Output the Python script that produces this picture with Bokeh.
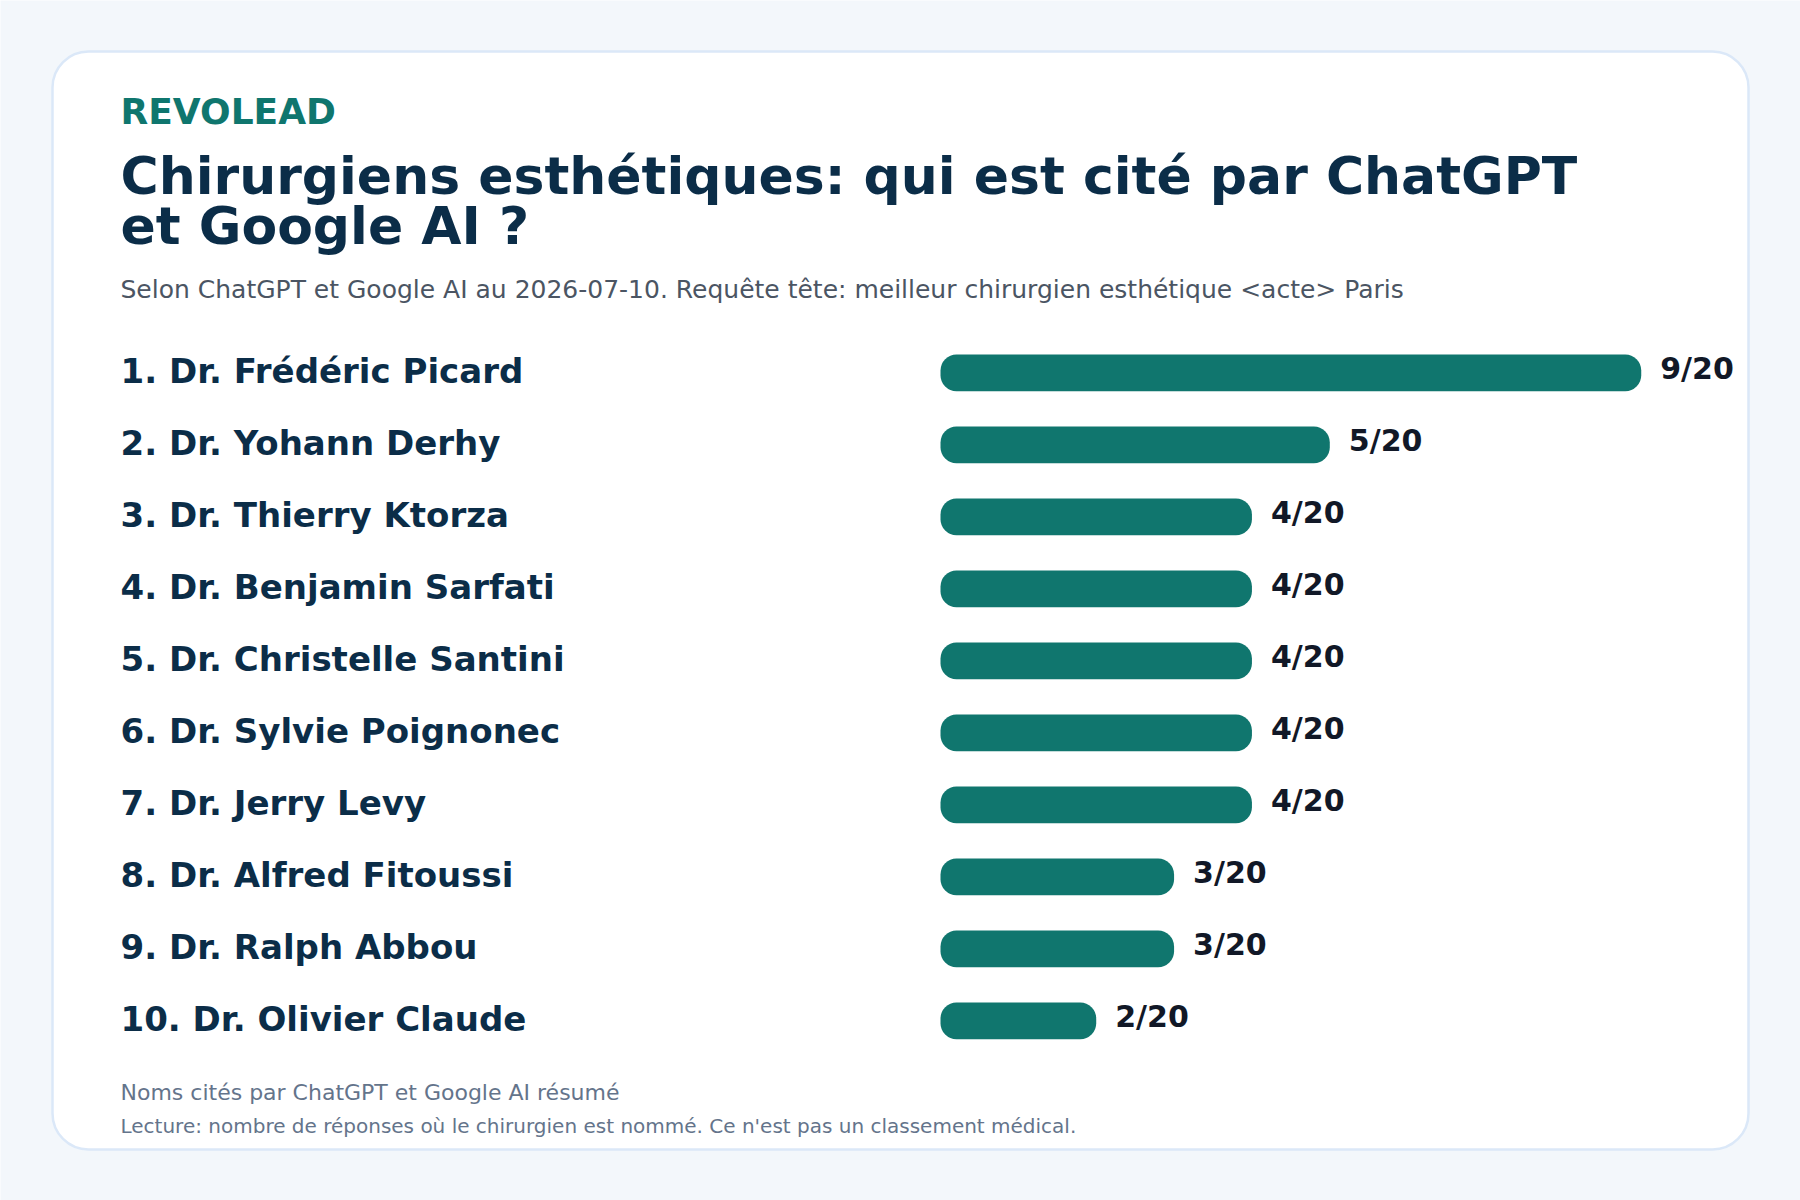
from bokeh.plotting import figure
from bokeh.models import Range1d, ColumnDataSource, Label, BoxAnnotation
from bokeh.core.properties import value
from bokeh.embed import file_html
from bokeh.resources import INLINE

# ---------------- data ----------------
brand = "REVOLEAD"
title_lines = ["Chirurgiens esthétiques: qui est cité par ChatGPT", "et Google AI ?"]
subtitle = "Selon ChatGPT et Google AI au 2026-07-10. Requête tête: meilleur chirurgien esthétique <acte> Paris"
footer_lines = [
    "Noms cités par ChatGPT et Google AI résumé",
    "Lecture: nombre de réponses où le chirurgien est nommé. Ce n'est pas un classement médical.",
]
names = [
    "Dr. Frédéric Picard", "Dr. Yohann Derhy", "Dr. Thierry Ktorza", "Dr. Benjamin Sarfati",
    "Dr. Christelle Santini", "Dr. Sylvie Poignonec", "Dr. Jerry Levy", "Dr. Alfred Fitoussi",
    "Dr. Ralph Abbou", "Dr. Olivier Claude",
]
citations = [9, 5, 4, 4, 4, 4, 4, 3, 3, 2]
total_responses = 20

ranks = list(range(1, len(names) + 1))
labels = [f"{r}. {n}" for r, n in zip(ranks, names)]
value_labels = [f"{v}/{total_responses}" for v in citations]

# ---------------- layout constants (pixels) ----------------
W, H = 1800, 1200
BAR_X0 = 940.0          # pixel position of value 0
PX_PER_UNIT = 77.86     # pixels per citation
ROW0 = 372.4            # pixel centre of first row (from top)
ROW_H = 72.0            # pixels per row
NAME_X = 120.0
BASE_FIX = 0.36         # renderer places alphabetic baseline this many em lower

PAGE_BG = "#f3f7fb"
CARD_BORDER = "#dbe8f8"
TEAL = "#10766e"
NAVY = "#0b2d48"
SUB = "#4b5563"
FOOT = "#64748b"
VAL = "#111827"
FONT = "DejaVu Sans"

x_range = Range1d(-BAR_X0 / PX_PER_UNIT, (W - BAR_X0) / PX_PER_UNIT)
y_range = Range1d(1 + (H - ROW0) / ROW_H, 1 - ROW0 / ROW_H)

p = figure(width=W, height=H, x_range=x_range, y_range=y_range,
           output_backend="svg", toolbar_location=None,
           x_axis_location=None, y_axis_location=None, min_border=0)
p.grid.visible = False
p.outline_line_color = None
p.background_fill_color = PAGE_BG
p.border_fill_color = PAGE_BG

card = BoxAnnotation(left=52, right=1748, bottom=51, top=1149,
                     left_units="screen", right_units="screen",
                     bottom_units="screen", top_units="screen",
                     fill_color="white", fill_alpha=1.0,
                     line_color=CARD_BORDER, line_width=2.5, line_alpha=1.0,
                     border_radius=36, level="underlay")
p.add_layout(card)

src = ColumnDataSource(dict(rank=ranks, value=citations, label=labels, vlabel=value_labels,
                            zero=[0] * len(ranks)))

p.hbar(y="rank", left="zero", right="value", height=36.7 / ROW_H, source=src,
       fill_color=TEAL, line_color=None, border_radius=16)

NAME_SIZE = 34
VAL_SIZE = 30
p.text(x="zero", y="rank", text="label", source=src, x_offset=NAME_X - BAR_X0,
       y_offset=10 - BASE_FIX * NAME_SIZE,
       text_font=value(FONT), text_font_style="bold", text_font_size=f"{NAME_SIZE}px",
       text_color=NAVY, text_baseline="alphabetic", text_align="left")

p.text(x="value", y="rank", text="vlabel", source=src, x_offset=19,
       y_offset=6.5 - BASE_FIX * VAL_SIZE,
       text_font=value(FONT), text_font_style="bold", text_font_size=f"{VAL_SIZE}px",
       text_color=VAL, text_baseline="alphabetic", text_align="left")


def add_label(txt, baseline_px, size, color, bold=False):
    b = baseline_px - BASE_FIX * size
    p.add_layout(Label(x=NAME_X, y=H - b, x_units="screen", y_units="screen",
                       text=txt, text_font=FONT, text_font_size=f"{size}px",
                       text_font_style="bold" if bold else "normal",
                       text_color=color, text_baseline="alphabetic", text_align="left"))


add_label(brand, 124, 36, "#0f766e", bold=True)
add_label(title_lines[0], 194.5, 52, NAVY, bold=True)
add_label(title_lines[1], 244, 52, NAVY, bold=True)
add_label(subtitle, 298.3, 25, SUB)
add_label(footer_lines[0], 1100, 22, FOOT)
add_label(footer_lines[1], 1133, 20, FOOT)

open("out.html", "w").write(file_html(p, INLINE))
